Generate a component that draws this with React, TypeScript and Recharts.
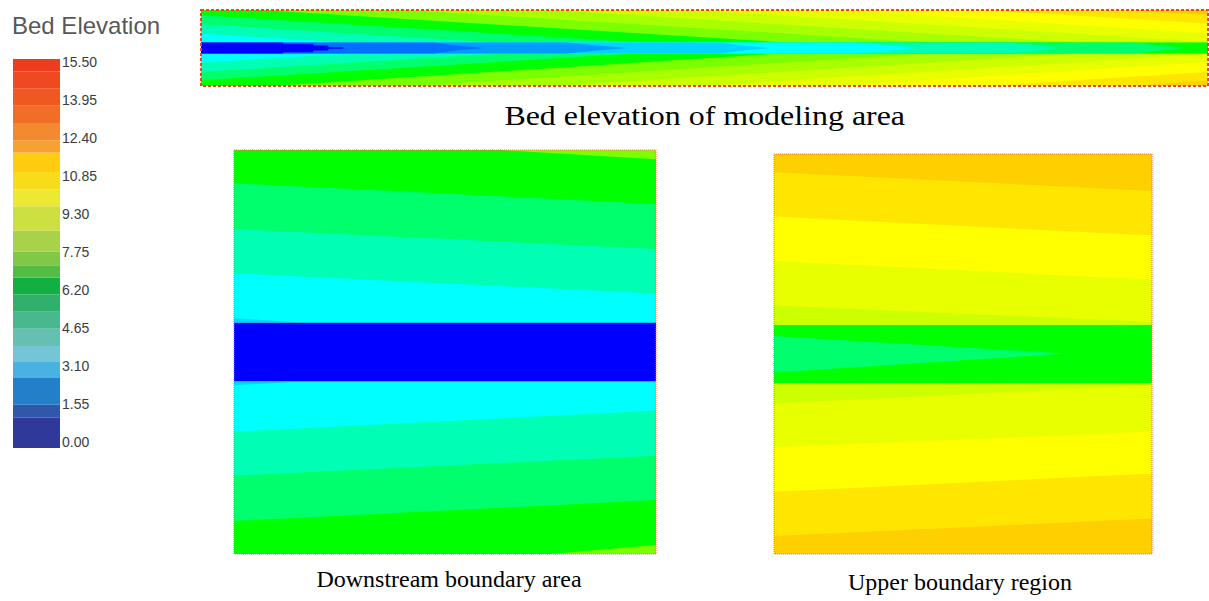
import React from 'react';
import { ComposedChart, Area, XAxis, YAxis, ReferenceArea } from 'recharts';

// ---------- colour levels of the contour fill ----------
const LEVEL_COLORS = [
  '#0000ff', '#0070ff', '#009cff', '#00d4ff', '#00ffff', '#00ffb4', '#00ff6c', '#00ff00',
  '#7cff00', '#a8ff00', '#ccff00', '#e8ff00', '#ffff00', '#ffe600', '#ffd000',
];

// ---------- legend (colour bar) ----------
const legendTicks = [0, 1.55, 3.1, 4.65, 6.2, 7.75, 9.3, 10.85, 12.4, 13.95, 15.5];
const legendFrom = [-0.26, 0.97, 1.5, 2.6, 3.25, 3.9, 4.6, 5.3, 6.0, 6.7, 7.2, 7.75, 8.6, 9.6, 10.3, 11.0, 11.8, 12.3, 13.0, 13.7, 14.4, 15.1];
const legendTo = [0.97, 1.5, 2.6, 3.25, 3.9, 4.6, 5.3, 6.0, 6.7, 7.2, 7.75, 8.6, 9.6, 10.3, 11.0, 11.8, 12.3, 13.0, 13.7, 14.4, 15.1, 15.61];
const legendColors = [
  '#30399a', '#3058aa', '#2380c8', '#4ab2e2', '#74c6d6', '#66c0b2', '#48b88e', '#30b06a',
  '#12b042', '#54bc44', '#82c848', '#a8d24a', '#cce042', '#ece834', '#f8dc1c', '#ffcc10',
  '#f8a030', '#f38a30', '#f06e28', '#f05822', '#f04820', '#ee3c1e',
];

// ---------- "Bed elevation of modeling area" (whole reach) ----------
// contour lines [level, [x, y] ...]; x = % of reach, y = lateral % of half width (channel edge at 14.5)
const stripBankBase = 4;
const stripTopContours: [number, number[][]][] = [
  [5, [[0, 38.2], [14.5, 14.5]]],
  [6, [[0, 62.6], [29.3, 14.5]]],
  [7, [[0, 86.3], [43.8, 14.5]]],
  [8, [[6.0, 100], [58.1, 14.5]]],
  [9, [[20.3, 100], [72.4, 14.5]]],
  [10, [[34.6, 100], [86.8, 14.5]]],
  [11, [[49.0, 100], [100, 16.3]]],
  [12, [[63.3, 100], [100, 38.5]]],
  [13, [[77.6, 100], [100, 64.5]]],
  [14, [[92.0, 100], [100, 86.3]]],
];
const stripBottomContours: [number, number[][]][] = [
  [5, [[0, -38.2], [14.8, -14.5]]],
  [6, [[0, -62.9], [29.6, -14.5]]],
  [7, [[0, -84.7], [43.0, -14.5]]],
  [8, [[7.0, -100], [57.5, -14.5]]],
  [9, [[21.0, -100], [72.0, -14.5]]],
  [10, [[35.0, -100], [86.5, -14.5]]],
  [11, [[49.5, -100], [100, -16.0]]],
  [12, [[63.5, -100], [100, -36.6]]],
  [13, [[78.0, -100], [100, -62.9]]],
  [14, [[92.5, -100], [100, -84.7]]],
];
const stripChannelBase = 7;
// channel wedges [level, [x, low, high] ...], drawn from high level to low level
const stripWedges: [number, number[][]][] = [
  [6, [[0, -14.5, 14.5], [92.8, -14.5, 14.5], [95.0, -8, 8], [97.6, 0, 0]]],
  [5, [[0, -14.5, 14.5], [80.5, -14.5, 14.5], [83.0, -7, 7], [85.0, 0, 0]]],
  [4, [[0, -14.5, 14.5], [65.0, -14.5, 14.5], [68.0, -8, 8], [71.0, 0, 0]]],
  [3, [[0, -14.5, 14.5], [51.5, -14.5, 14.5], [54.0, -6, 6], [56.5, 0, 0]]],
  [2, [[0, -14.5, 14.5], [36.4, -14.5, 14.5], [39.0, -7, 7], [42.4, 0, 0]]],
  [1, [[0, -14.5, 14.5], [23.2, -14.5, 14.5], [25.5, -6, 6], [28.2, 0, 0]]],
  [0, [[0, -14.5, 14.5], [8.1, -14.5, 14.5], [8.2, -11, 11], [11.1, -11, 11], [11.2, -6.6, 6.6],
    [12.6, -6.6, 6.6], [12.7, -2.2, 2.2], [14.1, -2.2, 2.2], [14.2, 0, 0]]],
];

// ---------- "Downstream boundary area" ----------
const downBankBase = 3;
const downTopContours: [number, number[][]][] = [
  [4, [[0, 16.7], [17, 14.5]]],
  [5, [[0, 39.0], [100, 28.9]]],
  [6, [[0, 60.9], [100, 51.0]]],
  [7, [[0, 83.5], [100, 73.3]]],
  [8, [[63, 100], [100, 95.4]]],
];
const downBottomContours: [number, number[][]][] = [
  [4, [[0, -16.5], [16, -14.5]]],
  [5, [[0, -39.5], [100, -29.0]]],
  [6, [[0, -61.2], [100, -51.3]]],
  [7, [[0, -83.7], [100, -73.3]]],
  [8, [[75, -100], [100, -95.5]]],
];
const downChannelBase = 0;
const downWedges: [number, number[][]][] = [];

// ---------- "Upper boundary region" ----------
const upBankBase = 10;
const upTopContours: [number, number[][]][] = [
  [11, [[0, 24.2], [100, 16.0]]],
  [12, [[0, 46.5], [100, 37.2]]],
  [13, [[0, 68.7], [100, 59.2]]],
  [14, [[0, 90.9], [100, 81.5]]],
];
const upBottomContours: [number, number[][]][] = [
  [11, [[0, -24.7], [100, -15.5]]],
  [12, [[0, -46.5], [100, -38.9]]],
  [13, [[0, -68.9], [100, -59.7]]],
  [14, [[0, -91.0], [100, -82.2]]],
];
const upChannelBase = 7;
const upWedges: [number, number[][]][] = [
  [6, [[0, -9.2, 9.0], [77.4, 0.2, 0.2]]],
];

const CH = 14.5;
const EDGE = 100;

type Row = { x: number; r: number[] };

function regionAbove(pts: number[][], side: number): Row[] {
  const edge = side > 0 ? EDGE : -EDGE;
  const rows: Row[] = pts.map(([x, y]) => ({ x, r: side > 0 ? [y, edge] : [edge, y] }));
  const last = pts[pts.length - 1];
  if (last[0] < 100) rows.push({ x: 100, r: side > 0 ? [last[1], edge] : [edge, last[1]] });
  return rows;
}

function band(key: string, data: Row[], level: number) {
  return (
    <Area
      key={key}
      data={data}
      dataKey="r"
      type="linear"
      stroke="none"
      fill={LEVEL_COLORS[level]}
      fillOpacity={1}
      isAnimationActive={false}
      dot={false}
      activeDot={false}
    />
  );
}

function ContourPanel(props: {
  width: number; height: number; bankBase: number;
  top: [number, number[][]][]; bottom: [number, number[][]][];
  channelBase: number; wedges: [number, number[][]][];
  border: string; borderWidth: number; dash: string;
}) {
  const { width, height, bankBase, top, bottom, channelBase, wedges } = props;
  const items: React.ReactNode[] = [];
  items.push(band('bt', [{ x: 0, r: [CH, EDGE] }, { x: 100, r: [CH, EDGE] }], bankBase));
  items.push(band('bb', [{ x: 0, r: [-EDGE, -CH] }, { x: 100, r: [-EDGE, -CH] }], bankBase));
  top.forEach(([lv, pts], i) => items.push(band('t' + i, regionAbove(pts, 1), lv)));
  bottom.forEach(([lv, pts], i) => items.push(band('b' + i, regionAbove(pts, -1), lv)));
  items.push(band('cb', [{ x: 0, r: [-CH, CH] }, { x: 100, r: [-CH, CH] }], channelBase));
  wedges.forEach(([lv, pts], i) =>
    items.push(band('w' + i, pts.map(([x, lo, hi]) => ({ x, r: [lo, hi] })), lv))
  );
  return (
    <ComposedChart width={width + 2} height={height + 2} margin={{ top: 1, right: 1, bottom: 1, left: 1 }}>
      <XAxis type="number" dataKey="x" domain={[0, 100]} hide allowDataOverflow />
      <YAxis type="number" domain={[-EDGE, EDGE]} hide allowDataOverflow />
      {items}
      <ReferenceArea
        x1={0} x2={100} y1={-EDGE} y2={EDGE}
        fill="none" fillOpacity={0}
        stroke={props.border} strokeWidth={props.borderWidth} strokeDasharray={props.dash}
        ifOverflow="visible"
      />
    </ComposedChart>
  );
}

function Legend() {
  const data = legendTicks.map((t) => ({ t }));
  return (
    <ComposedChart width={97} height={409} data={data} margin={{ top: 10, right: 0, bottom: 10, left: 0 }}>
      <XAxis type="number" domain={[0, 1]} hide />
      <YAxis
        type="number"
        orientation="right"
        width={50}
        domain={[-0.26, 15.61]}
        ticks={legendTicks}
        tickFormatter={(v: number) => v.toFixed(2)}
        tickLine={false}
        axisLine={false}
        tickSize={0}
        tickMargin={2}
        interval={0}
        tick={{ fill: '#3c3c3c', fontSize: 14, fontFamily: 'Liberation Sans, Arial, sans-serif' }}
        allowDataOverflow
      />
      {legendColors.map((c, i) => (
        <ReferenceArea
          key={i}
          y1={legendFrom[i]}
          y2={legendTo[i]}
          fill={c}
          fillOpacity={1}
          stroke="none"
          ifOverflow="visible"
        />
      ))}
    </ComposedChart>
  );
}

const serif = 'Liberation Serif, "Times New Roman", serif';

export default function App() {
  return (
    <div style={{ position: 'absolute', left: 0, top: 0, width: 1209, height: 601, background: '#ffffff', overflow: 'hidden' }}>
      <div style={{ position: 'absolute', left: 12, top: 14, fontFamily: 'Liberation Sans, Arial, sans-serif', fontSize: 24, color: '#585858', lineHeight: '24px', whiteSpace: 'nowrap' }}>
        Bed Elevation
      </div>
      <div style={{ position: 'absolute', left: 13, top: 49 }}>
        <Legend />
      </div>

      <div style={{ position: 'absolute', left: 200, top: 9 }}>
        <ContourPanel width={1007} height={76} bankBase={stripBankBase} top={stripTopContours} bottom={stripBottomContours}
          channelBase={stripChannelBase} wedges={stripWedges} border="#ff3c1e" borderWidth={2} dash="3 2" />
      </div>
      <div style={{ position: 'absolute', left: 0, width: 1410, top: 102, textAlign: 'center', fontFamily: serif, fontSize: 28, lineHeight: '28px', color: '#000', whiteSpace: 'nowrap' }}>
        <span style={{ display: 'inline-block', transform: 'scaleX(1.14)', transformOrigin: 'center' }}>
          Bed elevation of modeling area
        </span>
      </div>

      <div style={{ position: 'absolute', left: 233, top: 149 }}>
        <ContourPanel width={422} height={404} bankBase={downBankBase} top={downTopContours} bottom={downBottomContours}
          channelBase={downChannelBase} wedges={downWedges} border="#ff6a30" borderWidth={1} dash="1 1" />
      </div>
      <div style={{ position: 'absolute', left: 0, width: 898, top: 567, textAlign: 'center', fontFamily: serif, fontSize: 24, lineHeight: '24px', color: '#000', whiteSpace: 'nowrap' }}>
        Downstream boundary area
      </div>

      <div style={{ position: 'absolute', left: 773, top: 153 }}>
        <ContourPanel width={378} height={400} bankBase={upBankBase} top={upTopContours} bottom={upBottomContours}
          channelBase={upChannelBase} wedges={upWedges} border="#ff6a30" borderWidth={1} dash="1 1" />
      </div>
      <div style={{ position: 'absolute', left: 0, width: 1920, top: 570, textAlign: 'center', fontFamily: serif, fontSize: 24, lineHeight: '24px', color: '#000', whiteSpace: 'nowrap' }}>
        Upper boundary region
      </div>
    </div>
  );
}
